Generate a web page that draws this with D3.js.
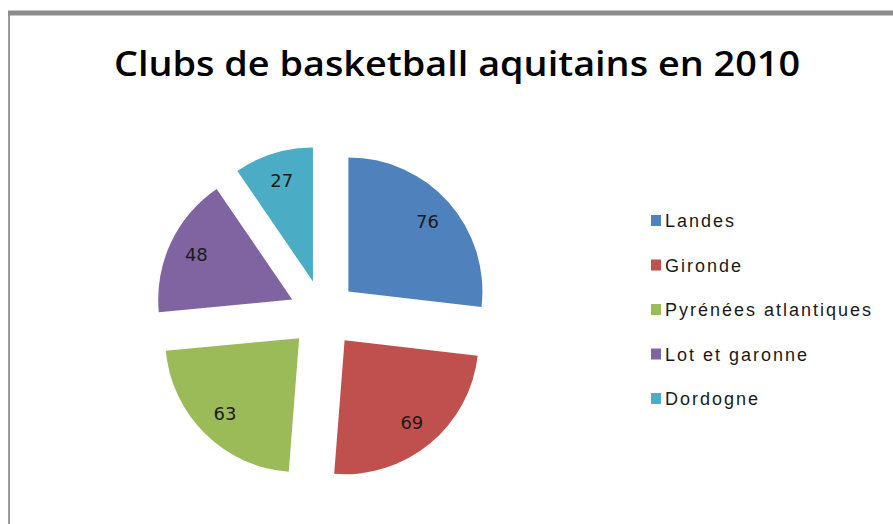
<!DOCTYPE html>
<html>
<head>
<meta charset="utf-8">
<script src="https://cdn.jsdelivr.net/npm/d3@7"></script>
<style>
  html, body { margin: 0; padding: 0; background: #fff; }
  svg { display: block; }
</style>
</head>
<body>
<svg id="chart" width="893" height="524"></svg>
<script>
// Number of basketball clubs per département of Aquitaine, 2010
const departements = ["Landes", "Gironde", "Pyrénées atlantiques", "Lot et garonne", "Dordogne"];
const clubs = [76, 69, 63, 48, 27];
const couleurs = ["#4F81BD", "#C0504D", "#9BBB59", "#8064A2", "#4BACC6"];
const titre = "Clubs de basketball aquitains en 2010";

const W = 893, H = 524;
const svg = d3.select("#chart");

// chart frame
svg.append("rect").attr("x", 0).attr("y", 0).attr("width", W).attr("height", H).attr("fill", "#fff");
svg.append("line").attr("x1", 9).attr("x2", 9).attr("y1", 12).attr("y2", H)
  .attr("stroke", "#9a9a9a").attr("stroke-width", 2);
svg.append("line").attr("x1", 8).attr("x2", W).attr("y1", 13).attr("y2", 13)
  .attr("stroke", "#8c8c8c").attr("stroke-width", 5);

// title
svg.append("text")
  .attr("x", 457).attr("y", 76)
  .attr("text-anchor", "middle")
  .attr("font-family", "'Open Sans', 'Liberation Sans', sans-serif")
  .attr("font-weight", "600")
  .attr("font-size", 34)
  .attr("textLength", 686)
  .attr("lengthAdjust", "spacingAndGlyphs")
  .attr("fill", "#000")
  .text(titre);

// exploded pie
const cx = 323, cy = 314, radius = 134, explode = 34;
const pie = d3.pie().sort(null).startAngle(0).endAngle(2 * Math.PI);
const arcs = pie(clubs);
const arc = d3.arc().innerRadius(0).outerRadius(radius);
const labelR = radius * 0.79;
const labelArc = d3.arc().innerRadius(labelR).outerRadius(labelR);

const g = svg.append("g").attr("transform", `translate(${cx},${cy})`);
const slices = g.selectAll("g.slice").data(arcs).join("g")
  .attr("class", "slice")
  .attr("transform", d => {
    const a = (d.startAngle + d.endAngle) / 2;
    return `translate(${explode * Math.sin(a)},${-explode * Math.cos(a)})`;
  });

slices.append("path")
  .attr("d", arc)
  .attr("fill", (d, i) => couleurs[i]);

slices.append("text")
  .attr("transform", d => `translate(${labelArc.centroid(d)})`)
  .attr("text-anchor", "middle")
  .attr("dy", "0.36em")
  .attr("font-family", "'DejaVu Sans', sans-serif")
  .attr("font-size", 18)
  .attr("fill", "#1a1a1a")
  .text(d => d.data);

// legend
const legend = svg.append("g").attr("transform", "translate(651,221)");
const rows = legend.selectAll("g").data(departements).join("g")
  .attr("transform", (d, i) => `translate(0,${i * 44.5})`);
rows.append("rect")
  .attr("x", 0).attr("y", -6).attr("width", 10).attr("height", 11)
  .attr("fill", (d, i) => couleurs[i]);
rows.append("text")
  .attr("x", 14).attr("y", 0).attr("dy", "0.35em")
  .attr("font-family", "'Liberation Sans', sans-serif")
  .attr("font-size", 18)
  .attr("letter-spacing", 2)
  .attr("fill", "#1a1a1a")
  .text(d => d);
</script>
</body>
</html>
